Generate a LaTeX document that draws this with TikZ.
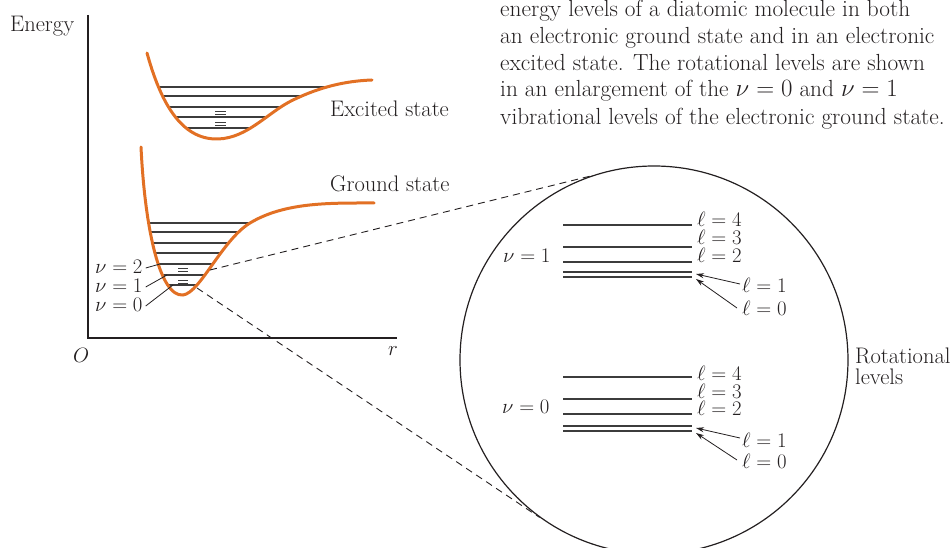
\documentclass[tikz,border=0pt]{standalone}
\usepackage{fontspec}
\usetikzlibrary{arrows.meta}
\definecolor{curveor}{RGB}{226,112,36}
\definecolor{ink}{RGB}{35,31,32}
\definecolor{lev}{RGB}{60,60,60}
\begin{document}
\begin{tikzpicture}[x=1pt,y=-1pt,
  every node/.style={inner sep=0pt, text=ink, font=\fontsize{22.5}{27}\selectfont},
  lbl/.style={anchor=base west},
  mlbl/.style={anchor=base west, font=\fontsize{20.5}{24}\selectfont},
  captext/.style={anchor=base west, font=\fontsize{23.3}{27}\selectfont},
  pot/.style={line width=3pt, draw=curveor, line cap=round},
  axis/.style={line width=1.2pt, draw=ink},
  level/.style={line width=1.2pt, draw=lev},
  rlevel/.style={line width=1.4pt, draw=lev},
  leader/.style={line width=0.8pt, draw=ink},
  zoomline/.style={line width=0.9pt, draw=ink, dash pattern=on 7pt off 5pt},
  ptr/.style={line width=0.8pt, draw=ink, -{Stealth[length=8pt,width=5pt]}}
]
\useasboundingbox (0,0) rectangle (951,548);

% axes
\coordinate (ytop) at (88,15);
\coordinate (orig) at (88,338);
\coordinate (xend) at (397,338);
\draw[axis] (ytop) -- (orig) -- (xend);
\node[lbl] (energy) at (10,32) {Energy};
\node[mlbl] (O) at (73,362) {$O$};
\node[mlbl] (r) at (388,355) {$r$};

% excited state levels
\begin{scope}
\clip (147,53) .. controls (160,100) and (180,140) .. (218,139)
      .. controls (248,138) and (268,112) .. (293,100)
      .. controls (320,87) and (345,81) .. (372,80) -- cycle;
\foreach \yy in {87,96,107,117,128} \draw[level] (100,\yy) -- (400,\yy);
\end{scope}
\foreach \yy in {111.5,114.5,122.5,125.5} \draw[level, line width=0.9pt] (215,\yy) -- (226,\yy);
\draw[pot] (147,53) .. controls (160,100) and (180,140) .. (218,139)
      .. controls (248,138) and (268,112) .. (293,100)
      .. controls (320,87) and (345,81) .. (372,80);
\node[lbl] (exc) at (330,117) {Excited state};

% ground state levels
\begin{scope}
\clip (141,147) .. controls (145,230) and (160,297) .. (183,295)
      .. controls (200,293) and (222,240) .. (250,223)
      .. controls (285,202) and (330,203) .. (374,203) -- cycle;
\foreach \yy in {223,232,243,253,264,275,285} \draw[level] (100,\yy) -- (400,\yy);
\end{scope}
\foreach \yy in {268.5,271.5,280.5,283.5} \draw[level, line width=0.9pt] (178,\yy) -- (188,\yy);
\draw[pot] (141,147) .. controls (145,230) and (160,297) .. (183,295)
      .. controls (200,293) and (222,240) .. (250,223)
      .. controls (285,202) and (330,203) .. (374,203);
\node[lbl] (gnd) at (330,192) {Ground state};

% vibrational labels
\node[mlbl] (v2) at (95,273) {$\nu = 2$};
\node[mlbl] (v1) at (95,292) {$\nu = 1$};
\node[mlbl] (v0) at (95,312) {$\nu = 0$};
\coordinate (g2) at (160,264);
\coordinate (g1) at (167,275);
\coordinate (g0) at (173,285);
\draw[leader] ([shift={(3,-5)}]v2.base east) -- (g2);
\draw[leader] ([shift={(3,-5)}]v1.base east) -- (g1);
\draw[leader] ([shift={(3,-6)}]v0.base east) -- (g0);

% magnifier circle
\node[circle, draw=ink, line width=1.2pt, minimum size=388pt] (mag) at (654,360) {};
\coordinate (za) at (210,270);
\coordinate (zb) at (197,288);
\draw[zoomline] (za) -- (mag.109);
\draw[zoomline] (zb) -- (mag.234);

% rotational levels, nu = 1
\foreach \yy in {225,247,262,272,277} \draw[rlevel] (563,\yy) -- (692,\yy);
\node[mlbl] (n1) at (503,263) {$\nu = 1$};
\node[mlbl] (a4) at (697,227) {$\ell = 4$};
\node[mlbl] (a3) at (697,245) {$\ell = 3$};
\node[mlbl] (a2) at (697,263) {$\ell = 2$};
\node[mlbl] (a1) at (742,292) {$\ell = 1$};
\node[mlbl] (a0) at (742,316) {$\ell = 0$};
\coordinate (t1) at (696,274);
\coordinate (t0) at (696,279);
\draw[ptr] ([shift={(-2,-8)}]a1.base west) -- (t1);
\draw[ptr] ([shift={(-5,-8)}]a0.base west) -- (t0);

% rotational levels, nu = 0
\foreach \yy in {377,399,414,426,431} \draw[rlevel] (563,\yy) -- (692,\yy);
\node[mlbl] (n0) at (502,413) {$\nu = 0$};
\node[mlbl] (b4) at (697,380) {$\ell = 4$};
\node[mlbl] (b3) at (697,398) {$\ell = 3$};
\node[mlbl] (b2) at (697,415) {$\ell = 2$};
\node[mlbl] (b1) at (742,447) {$\ell = 1$};
\node[mlbl] (b0) at (742,468) {$\ell = 0$};
\coordinate (s1) at (696,428);
\coordinate (s0) at (696,433);
\draw[ptr] ([shift={(-2,-9)}]b1.base west) -- (s1);
\draw[ptr] ([shift={(-5,-8)}]b0.base west) -- (s0);

% side label
\node[lbl] (rot1) at (855,363) {Rotational};
\node[lbl] (rot2) at (855,384) {levels};

% caption
\node[captext] (c1) at (500,17) {energy levels of a diatomic molecule in both};
\node[captext] (c2) at (500,44) {an electronic ground state and in an electronic};
\node[captext] (c3) at (500,71) {excited state. The rotational levels are shown};
\node[captext] (c4) at (500,97) {in an enlargement of the $\nu = 0$ and $\nu = 1$};
\node[captext] (c5) at (500,125) {vibrational levels of the electronic ground state.};
\end{tikzpicture}
\end{document}
